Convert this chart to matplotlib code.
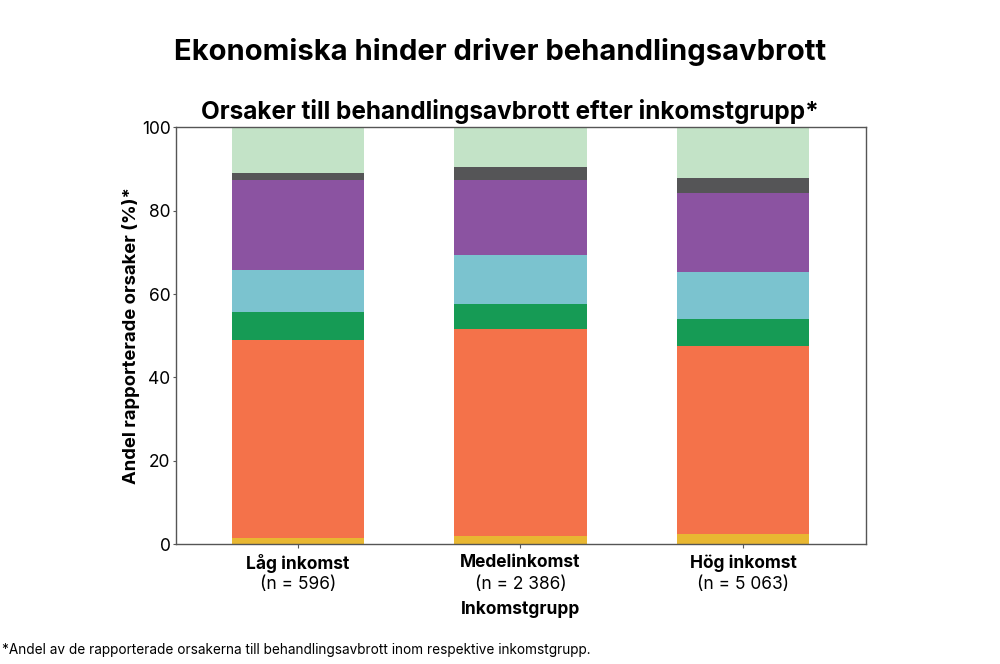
import matplotlib
matplotlib.use("Agg")
import matplotlib.pyplot as plt
import numpy as np

groups = ["Låg inkomst", "Medelinkomst", "Hög inkomst"]
n_labels = ["(n = 596)", "(n = 2 386)", "(n = 5 063)"]
# Stacked segment shares (%) bottom -> top
seg1 = [1.4, 2.1, 2.4]      # yellow
seg2 = [47.6, 49.5, 45.2]   # orange
seg3 = [6.7, 6.0, 6.4]      # green
seg4 = [10.1, 11.8, 11.3]   # cyan
seg5 = [21.6, 18.0, 19.0]   # purple
seg6 = [1.7, 3.0, 3.5]      # dark grey
seg7 = [10.9, 9.6, 12.2]    # light green
segments = [seg1, seg2, seg3, seg4, seg5, seg6, seg7]
colors = ["#E8B732", "#F4724A", "#169B55", "#7BC3CF", "#8B53A1", "#555557", "#C3E3C7"]

plt.rcParams['font.family'] = ['Inter', 'DejaVu Sans']

fig = plt.figure(figsize=(10, 6.64), dpi=100)
ax = fig.add_axes([0.176, 1 - 544.3/664, 0.69, (544.3-127.3)/664])

x = np.arange(len(groups))
bottom = np.zeros(len(groups))
for vals, c in zip(segments, colors):
    ax.bar(x, vals, bottom=bottom, width=0.595, color=c, edgecolor='none')
    bottom += np.array(vals)

ax.set_xlim(-0.548, 2.553)
ax.set_ylim(0, 100)
ax.set_yticks([0, 20, 40, 60, 80, 100])
ax.tick_params(axis='y', labelsize=12.5, length=2, width=0.8, color='#555555', pad=2)
ax.tick_params(axis='x', length=3, width=0.8, color='#555555')
ax.set_xticks(x)
ax.set_xticklabels([""] * 3)
for s in ax.spines.values():
    s.set_color('#555555')
    s.set_linewidth(1.0)

for xi, g, n in zip(x, groups, n_labels):
    ax.text(xi, -2.4, g, ha='center', va='top', fontsize=12.5, fontweight='bold')
    ax.text(xi, -7.6, n, ha='center', va='top', fontsize=12.5)

ax.text(1, -13.6, "Inkomstgrupp", ha='center', va='top', fontsize=12.5, fontweight='bold')
ax.set_ylabel("Andel rapporterade orsaker (%)*", fontsize=13.3, fontweight='bold', labelpad=1)

fig.text(0.5, 1 - 52/664, "Ekonomiska hinder driver behandlingsavbrott", ha='center', va='center',
         fontsize=21, fontweight='bold')
fig.text(0.51, 1 - 111/664, "Orsaker till behandlingsavbrott efter inkomstgrupp*", ha='center', va='center',
         fontsize=17.5, fontweight='bold')
fig.text(0.002, 1 - 650/664, "*Andel av de rapporterade orsakerna till behandlingsavbrott inom respektive inkomstgrupp.",
         ha='left', va='center', fontsize=9.8)

fig.savefig("out.png", dpi=100, facecolor='white')
